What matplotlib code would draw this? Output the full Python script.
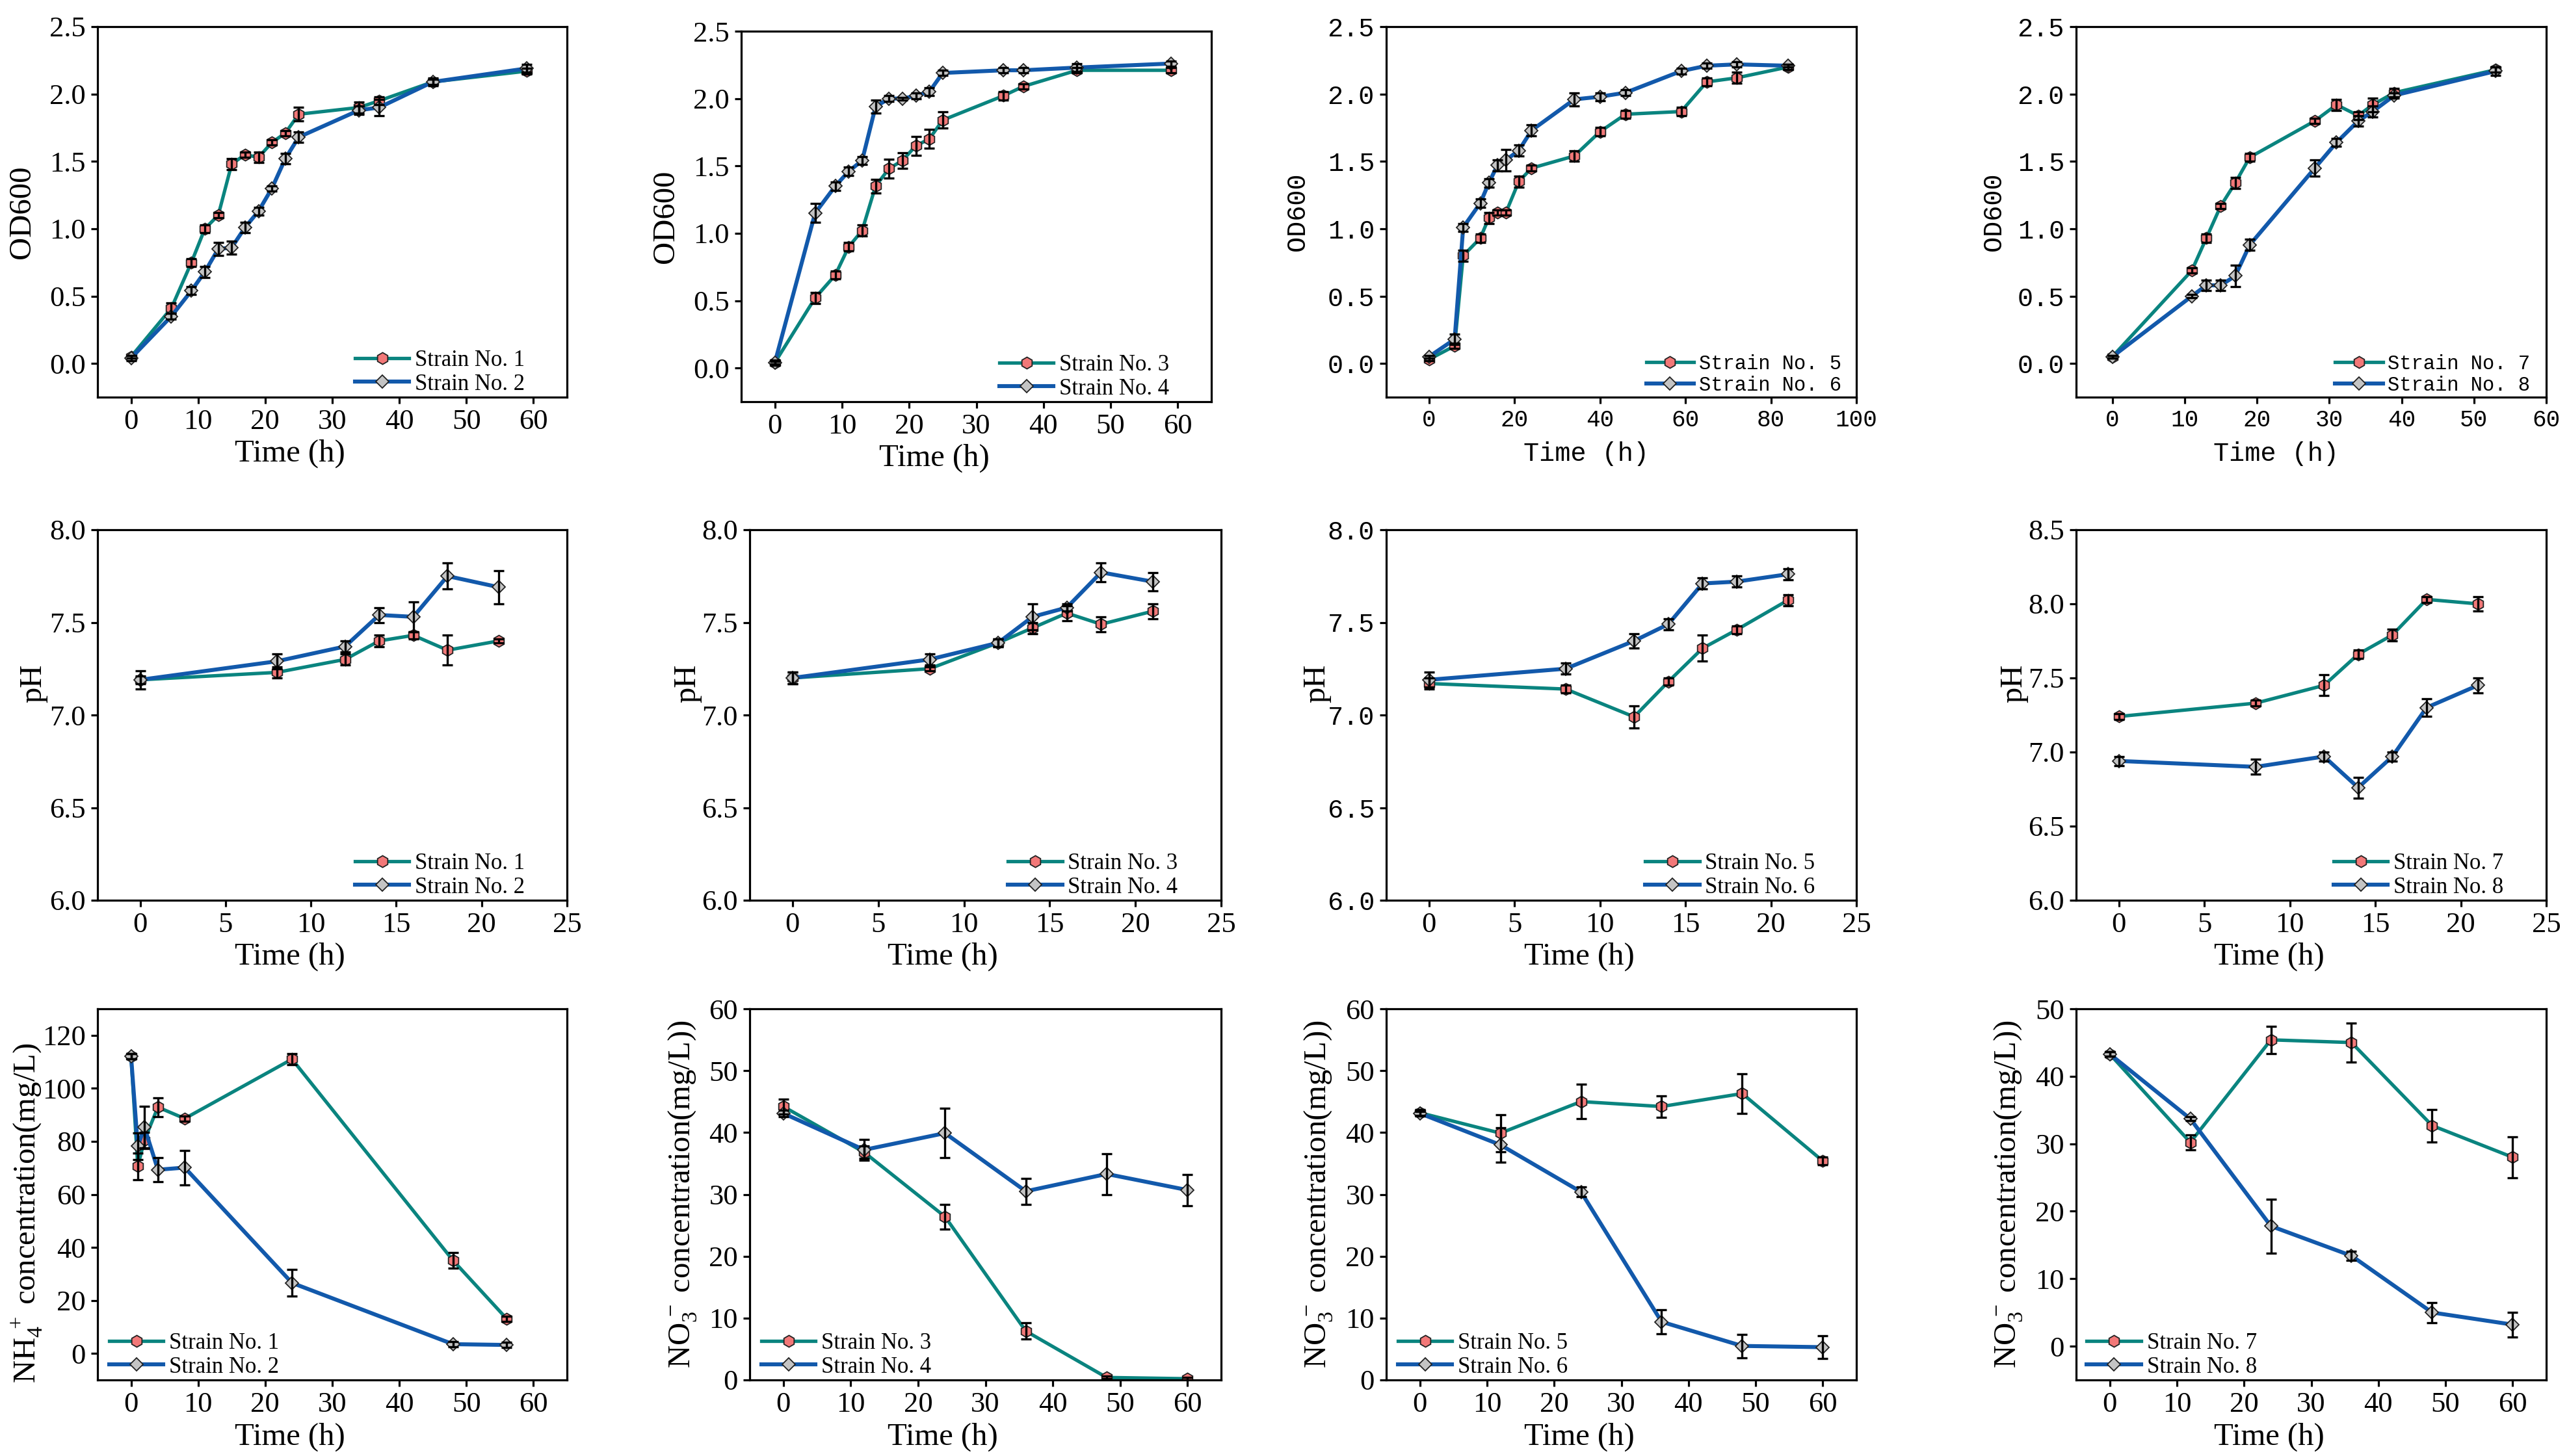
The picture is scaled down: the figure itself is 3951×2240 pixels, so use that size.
import matplotlib
matplotlib.use("Agg")
import matplotlib.pyplot as plt
from matplotlib.ticker import FormatStrFormatter

plt.rcParams['font.family'] = ['Liberation Serif', 'DejaVu Serif']
plt.rcParams['mathtext.fontset'] = 'custom'
plt.rcParams['mathtext.rm'] = 'Liberation Serif'
plt.rcParams['mathtext.it'] = 'Liberation Serif:italic'
plt.rcParams['mathtext.bf'] = 'Liberation Serif:bold'

TEAL = '#0A847F'
BLUE = '#1259AB'
RED_FACE = '#F27878'
GREY_FACE = '#C4C4C4'
MONO = 'Liberation Mono'

# ---- OD600 growth curves ----
od1_t = [0, 6, 9, 11, 13, 15, 17, 19, 21, 23, 25, 34, 37, 45, 59]
od1_a = [0.05, 0.41, 0.75, 1.00, 1.10, 1.48, 1.55, 1.53, 1.64, 1.71, 1.85, 1.90, 1.95, 2.09, 2.17]
od1_a_err = [0.01, 0.04, 0.03, 0.03, 0.02, 0.04, 0.02, 0.04, 0.02, 0.02, 0.05, 0.04, 0.03, 0.02, 0.02]
od1_b = [0.04, 0.35, 0.54, 0.68, 0.85, 0.86, 1.01, 1.13, 1.30, 1.52, 1.68, 1.88, 1.90, 2.09, 2.19]
od1_b_err = [0.02, 0.02, 0.03, 0.04, 0.05, 0.05, 0.04, 0.03, 0.02, 0.04, 0.04, 0.03, 0.06, 0.03, 0.03]

od2_t = [0, 6, 9, 11, 13, 15, 17, 19, 21, 23, 25, 34, 37, 45, 59]
od2_a = [0.04, 0.52, 0.69, 0.90, 1.02, 1.35, 1.48, 1.54, 1.65, 1.70, 1.84, 2.02, 2.09, 2.21, 2.21]
od2_a_err = [0.01, 0.04, 0.03, 0.03, 0.04, 0.05, 0.07, 0.06, 0.07, 0.07, 0.06, 0.03, 0.02, 0.02, 0.02]
od2_b = [0.04, 1.15, 1.35, 1.46, 1.54, 1.94, 2.00, 2.00, 2.02, 2.05, 2.19, 2.21, 2.21, 2.23, 2.26]
od2_b_err = [0.02, 0.07, 0.03, 0.03, 0.03, 0.05, 0.02, 0.01, 0.02, 0.03, 0.02, 0.02, 0.02, 0.03, 0.02]

od3_t = [0, 6, 8, 12, 14, 16, 18, 21, 24, 34, 40, 46, 59, 65, 72, 84]
od3_a = [0.03, 0.13, 0.80, 0.93, 1.08, 1.12, 1.12, 1.35, 1.45, 1.54, 1.72, 1.85, 1.87, 2.09, 2.12, 2.20]
od3_a_err = [0.01, 0.02, 0.04, 0.03, 0.04, 0.02, 0.02, 0.04, 0.02, 0.04, 0.03, 0.03, 0.03, 0.03, 0.04, 0.02]
od3_b = [0.05, 0.18, 1.01, 1.19, 1.34, 1.47, 1.51, 1.58, 1.73, 1.96, 1.98, 2.01, 2.17, 2.21, 2.22, 2.21]
od3_b_err = [0.01, 0.04, 0.03, 0.03, 0.03, 0.04, 0.08, 0.04, 0.04, 0.05, 0.03, 0.02, 0.02, 0.02, 0.02, 0.01]

od4_t = [0, 11, 13, 15, 17, 19, 28, 31, 34, 36, 39, 53]
od4_a = [0.05, 0.69, 0.93, 1.17, 1.34, 1.53, 1.80, 1.92, 1.84, 1.92, 2.01, 2.18]
od4_a_err = [0.01, 0.02, 0.03, 0.02, 0.04, 0.03, 0.02, 0.04, 0.03, 0.05, 0.03, 0.02]
od4_b = [0.05, 0.50, 0.58, 0.58, 0.65, 0.88, 1.45, 1.64, 1.80, 1.87, 1.99, 2.17]
od4_b_err = [0.01, 0.01, 0.04, 0.04, 0.08, 0.04, 0.06, 0.03, 0.04, 0.04, 0.02, 0.03]

# ---- pH ----
ph_t = [0, 8, 12, 14, 16, 18, 21]
ph1_a = [7.19, 7.23, 7.30, 7.40, 7.43, 7.35, 7.40]
ph1_a_err = [0.02, 0.03, 0.03, 0.03, 0.02, 0.08, 0.01]
ph1_b = [7.19, 7.29, 7.37, 7.54, 7.53, 7.75, 7.69]
ph1_b_err = [0.05, 0.04, 0.03, 0.04, 0.08, 0.07, 0.09]
ph2_a = [7.20, 7.25, 7.39, 7.47, 7.55, 7.49, 7.56]
ph2_a_err = [0.03, 0.01, 0.02, 0.03, 0.04, 0.04, 0.04]
ph2_b = [7.20, 7.30, 7.39, 7.53, 7.58, 7.77, 7.72]
ph2_b_err = [0.03, 0.03, 0.02, 0.07, 0.02, 0.05, 0.05]
ph3_a = [7.17, 7.14, 6.99, 7.18, 7.36, 7.46, 7.62]
ph3_a_err = [0.03, 0.02, 0.06, 0.02, 0.07, 0.02, 0.03]
ph3_b = [7.19, 7.25, 7.40, 7.49, 7.71, 7.72, 7.76]
ph3_b_err = [0.04, 0.03, 0.04, 0.03, 0.03, 0.03, 0.03]
ph4_a = [7.24, 7.33, 7.45, 7.66, 7.79, 8.03, 8.00]
ph4_a_err = [0.02, 0.02, 0.07, 0.03, 0.04, 0.02, 0.05]
ph4_b = [6.94, 6.90, 6.97, 6.76, 6.97, 7.30, 7.45]
ph4_b_err = [0.03, 0.05, 0.03, 0.07, 0.03, 0.06, 0.05]

# ---- nitrogen ----
nh_t = [0, 1, 2, 4, 8, 24, 48, 56]
nh_a = [112.1, 70.6, 80.5, 92.9, 88.6, 111.0, 35.1, 13.1]
nh_a_err = [1.0, 5.0, 3.0, 3.5, 1.0, 2.0, 3.0, 1.0]
nh_b = [112.1, 78.2, 85.3, 69.3, 70.1, 26.6, 3.5, 3.2]
nh_b_err = [1.0, 5.0, 8.0, 4.5, 6.5, 5.0, 1.0, 1.0]

no_t = [0, 12, 24, 36, 48, 60]
no2_a = [44.2, 36.8, 26.4, 7.9, 0.4, 0.2]
no2_a_err = [1.2, 1.0, 2.0, 1.3, 0.2, 0.2]
no2_b = [43.1, 37.2, 39.9, 30.5, 33.3, 30.7]
no2_b_err = [0.5, 1.7, 4.0, 2.1, 3.3, 2.5]
no3_a = [43.2, 39.9, 45.0, 44.2, 46.3, 35.4]
no3_a_err = [0.5, 3.0, 2.8, 1.7, 3.2, 0.6]
no3_b = [43.1, 38.0, 30.4, 9.4, 5.5, 5.3]
no3_b_err = [0.3, 2.8, 0.8, 1.9, 1.9, 1.8]
no4_a = [43.3, 30.2, 45.4, 45.0, 32.7, 28.0]
no4_a_err = [0.3, 1.1, 2.0, 2.9, 2.4, 3.0]
no4_b = [43.3, 33.7, 17.8, 13.4, 5.0, 3.2]
no4_b_err = [0.3, 0.3, 4.0, 0.7, 1.5, 1.8]

od_ticks = [0, 0.5, 1.0, 1.5, 2.0, 2.5]
ph_ticks = [6.0, 6.5, 7.0, 7.5, 8.0]
ph_ticks_hi = [6.0, 6.5, 7.0, 7.5, 8.0, 8.5]
t60_ticks = [0, 10, 20, 30, 40, 50, 60]
t100_ticks = [0, 20, 40, 60, 80, 100]
t25_ticks = [0, 5, 10, 15, 20, 25]

NH_LABEL = r'NH$_\mathregular{4}^{\,\,+}$ concentration(mg/L)'
NO_LABEL = r'NO$_\mathregular{3}^{\,-}$ concentration(mg/L))'

W, H = 3951, 2240
fig = plt.figure(figsize=(W / 100, H / 100), dpi=100)


def add_axes(l, t, r, b):
    return fig.add_axes([l / W, 1 - b / H, (r - l) / W, (b - t) / H])


def draw_panel(box, ta, a, ea, tb, b, eb, names, xlim, xticks, ylim, yticks,
               yfmt, ylabel, ylab_xy, leg_loc, leg_anchor,
               mono_x=False, mono_y=False, mono_text=False, xlab_x=0.41):
    ax = add_axes(*box)
    la, = ax.plot(ta, a, color=TEAL, lw=3.8, marker='h', ms=13, mfc=RED_FACE,
                  mec='#222222', mew=1.3, zorder=2)
    ax.errorbar(ta, a, yerr=ea, fmt='none', ecolor='black', elinewidth=2.4,
                capsize=5.5, capthick=2.4, zorder=3)
    lb, = ax.plot(tb, b, color=BLUE, lw=4.4, marker='D', ms=10.5, mfc=GREY_FACE,
                  mec='#222222', mew=1.3, zorder=2)
    ax.errorbar(tb, b, yerr=eb, fmt='none', ecolor='black', elinewidth=2.4,
                capsize=5.5, capthick=2.4, zorder=3)

    ax.set_xlim(*xlim)
    ax.set_ylim(*ylim)
    ax.set_xticks(xticks)
    ax.set_yticks(yticks)
    if yfmt:
        ax.yaxis.set_major_formatter(FormatStrFormatter(yfmt))
    for s in ax.spines.values():
        s.set_linewidth(2.3)
    ax.tick_params(direction='out', length=7, width=2.3, top=False, right=False,
                   labelsize=32, pad=6)
    if mono_x:
        ax.tick_params(axis='x', labelfontfamily=MONO, labelsize=26)
    if mono_y:
        ax.tick_params(axis='y', labelfontfamily=MONO, labelsize=29)

    if mono_text:
        lab_font = dict(family=MONO, size=29)
        leg_font = dict(family=MONO, size=22)
    else:
        lab_font = dict(family='Liberation Serif', size=35)
        leg_font = dict(family='Liberation Serif', size=25)

    ax.set_xlabel('Time (h)', fontdict=lab_font)
    ax.xaxis.set_label_coords(xlab_x, -0.153)
    ax.xaxis.label.set_va('center')
    ax.set_ylabel(ylabel, fontdict=lab_font)
    ax.yaxis.set_label_coords(*ylab_xy)
    ax.yaxis.label.set_va('center')

    ax.legend([la, lb], names, loc=leg_loc, bbox_to_anchor=leg_anchor,
              frameon=False, prop=leg_font, handlelength=2.4,
              handletextpad=0.25, labelspacing=0.1, borderpad=0.1,
              borderaxespad=0)
    return ax


od_ylim = (-0.25, 2.5)

draw_panel((150, 41, 872, 611), od1_t, od1_a, od1_a_err, od1_t, od1_b, od1_b_err,
           ['Strain No. 1', 'Strain No. 2'], (-5, 65), t60_ticks, od_ylim, od_ticks,
           '%.1f', 'OD600', (-0.161, 0.5), 'lower right', (0.915, 0.0))
draw_panel((1140, 48, 1863, 618), od2_t, od2_a, od2_a_err, od2_t, od2_b, od2_b_err,
           ['Strain No. 3', 'Strain No. 4'], (-5, 65), t60_ticks, od_ylim, od_ticks,
           '%.1f', 'OD600', (-0.160, 0.5), 'lower right', (0.915, 0.0))
draw_panel((2132, 41, 2855, 611), od3_t, od3_a, od3_a_err, od3_t, od3_b, od3_b_err,
           ['Strain No. 5', 'Strain No. 6'], (-10, 100), t100_ticks, od_ylim, od_ticks,
           '%.1f', 'OD600', (-0.19, 0.5), 'lower right', (0.972, 0.0),
           mono_x=True, mono_y=True, mono_text=True, xlab_x=0.425)
draw_panel((3193, 41, 3916, 611), od4_t, od4_a, od4_a_err, od4_t, od4_b, od4_b_err,
           ['Strain No. 7', 'Strain No. 8'], (-5, 60), t60_ticks, od_ylim, od_ticks,
           '%.1f', 'OD600', (-0.176, 0.5), 'lower right', (0.970, 0.0),
           mono_x=True, mono_y=True, mono_text=True, xlab_x=0.425)

draw_panel((150, 815, 872, 1385), ph_t, ph1_a, ph1_a_err, ph_t, ph1_b, ph1_b_err,
           ['Strain No. 1', 'Strain No. 2'], (-2.5, 25), t25_ticks, (6.0, 8.0), ph_ticks,
           '%.1f', 'pH', (-0.137, 0.586), 'lower right', (0.915, 0.0))
draw_panel((1153, 815, 1878, 1385), ph_t, ph2_a, ph2_a_err, ph_t, ph2_b, ph2_b_err,
           ['Strain No. 3', 'Strain No. 4'], (-2.5, 25), t25_ticks, (6.0, 8.0), ph_ticks,
           '%.1f', 'pH', (-0.132, 0.586), 'lower right', (0.913, 0.0))
draw_panel((2132, 815, 2855, 1385), ph_t, ph3_a, ph3_a_err, ph_t, ph3_b, ph3_b_err,
           ['Strain No. 5', 'Strain No. 6'], (-2.5, 25), t25_ticks, (6.0, 8.0), ph_ticks,
           '%.1f', 'pH', (-0.147, 0.586), 'lower right', (0.917, 0.0), mono_y=True)
draw_panel((3193, 815, 3916, 1385), ph_t, ph4_a, ph4_a_err, ph_t, ph4_b, ph4_b_err,
           ['Strain No. 7', 'Strain No. 8'], (-2.5, 25), t25_ticks, (6.0, 8.5), ph_ticks_hi,
           '%.1f', 'pH', (-0.133, 0.586), 'lower right', (0.914, 0.0))

draw_panel((150, 1552, 872, 2123), nh_t, nh_a, nh_a_err, nh_t, nh_b, nh_b_err,
           ['Strain No. 1', 'Strain No. 2'], (-5, 65), t60_ticks, (-10, 130),
           [0, 20, 40, 60, 80, 100, 120], None, NH_LABEL, (-0.150, 0.45),
           'lower left', (0.02, 0.0))
draw_panel((1153, 1552, 1878, 2123), no_t, no2_a, no2_a_err, no_t, no2_b, no2_b_err,
           ['Strain No. 3', 'Strain No. 4'], (-5, 65), t60_ticks, (0, 60),
           [0, 10, 20, 30, 40, 50, 60], None, NO_LABEL, (-0.143, 0.5),
           'lower left', (0.02, 0.0))
draw_panel((2132, 1552, 2855, 2123), no_t, no3_a, no3_a_err, no_t, no3_b, no3_b_err,
           ['Strain No. 5', 'Strain No. 6'], (-5, 65), t60_ticks, (0, 60),
           [0, 10, 20, 30, 40, 50, 60], None, NO_LABEL, (-0.145, 0.5),
           'lower left', (0.02, 0.0))
draw_panel((3193, 1552, 3916, 2123), no_t, no4_a, no4_a_err, no_t, no4_b, no4_b_err,
           ['Strain No. 7', 'Strain No. 8'], (-5, 65), t60_ticks, (-5, 50),
           [0, 10, 20, 30, 40, 50], None, NO_LABEL, (-0.144, 0.5),
           'lower left', (0.018, 0.0))

fig.savefig('out.png', dpi=100)
